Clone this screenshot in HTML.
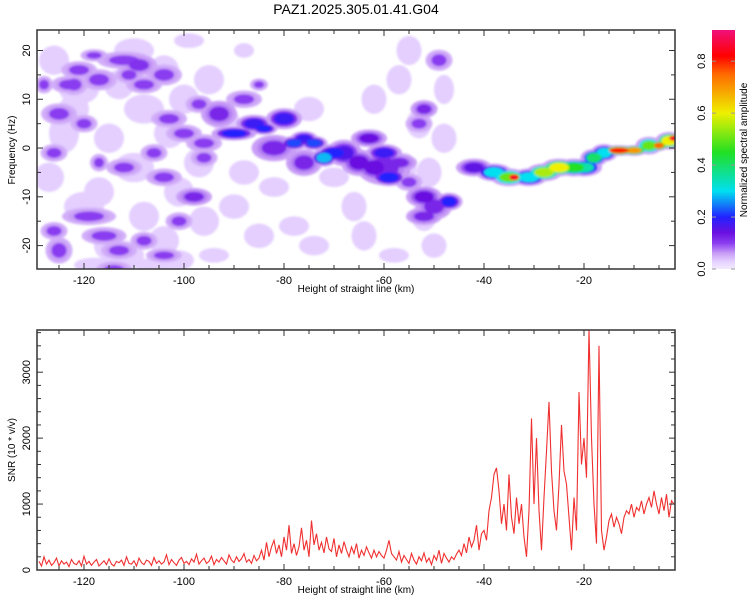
<!DOCTYPE html>
<html><head><meta charset="utf-8"><style>
body{margin:0;background:#fff;width:750px;height:600px;overflow:hidden}
svg text{font-family:"Liberation Sans",sans-serif;fill:#000}
</style></head><body>
<svg id="c" width="750" height="600" xmlns="http://www.w3.org/2000/svg">
<defs>
<linearGradient id="cbg" x1="0" y1="1" x2="0" y2="0"></linearGradient>
<filter id="soft"><feGaussianBlur stdDeviation="1.0"/></filter>
<clipPath id="clipTop"><rect x="37" y="30" width="638" height="239"/></clipPath>
<clipPath id="clipBot"><rect x="37" y="330" width="638" height="240"/></clipPath>
</defs>
<text x="356" y="14" font-size="14" text-anchor="middle">PAZ1.2025.305.01.41.G04</text>
<g id="specMarks" clip-path="url(#clipTop)" filter="url(#soft)"></g>
<g id="snrMarks" clip-path="url(#clipBot)"></g>
<g id="axes"></g>
</svg>
<script>
// ---- data ----
const xTicks=[-120,-100,-80,-60,-40,-20];
const fTicks=[-20,-10,0,10,20];
const snrTicks=[0,1000,2000,3000];
const cbTicks=[0.0,0.2,0.4,0.6,0.8];
// spectral cloud patches: center km, freq Hz, half-width km, half-height Hz
const cloudX=[-126,-121,-124,-127,-120,-115,-110,-113,-108,-115,-110,-117,-112,-104,-100,-103,-97,-101,-96,-104,-99,-101,-88,-85,-90,-88,-78,-74,-66,-64,-62,-57,-55,-53,-51,-56,-50,-48,-52,-75,-92,-118,-106,-94,-58,-48,-122,-108,-95,-82,-70];
const cloudF=[18,12,3,-6,-12,-20,20,13,8,2,-4,-9,-22,16,10,3,-3,-9,-15,-19,22,-23,-5,-18,-12,20,-16,-20,-12,-18,10,14,20,5,-5,-4,-20,12,-14,8,6,-24,-24,-22,-22,2,8,-14,14,-8,-6];
const cloudW=[3,4,3,3,4,3,4,3,4,3,4,3,4,3,3,3,3,3,3,3,3,3,3,3,3,2,3,3,2.5,2.5,2.5,2.5,2.5,2.5,2.5,2.5,2.5,2,2.5,3,3,4,4,3,3,2.5,3,3,3,3,3];
const cloudH=[3,3,4,3,3,3,2.5,3,3,3,3,3,3,3,3,3,3,3,3,3,1.5,2,2.5,2.5,2.5,1.5,2,2,3,3,3,3,3,3,3,3,2.5,3,3,2.5,2.5,1.5,1.5,1.5,1.5,3,3,3,3,2,2];
const blobX=[-125,-123,-121,-117,-112,-109,-111,-104,-108,-119,-116,-125,-126,-113,-98,-101,-104,-112,-106,-100,-96,-97,-103,-120,-126,-117,-114,-104,-108,-93,-96,-88,-85,-118,-122,-128,
 -90,-86,-84,-80,-78,-76,-74,-72,-70,-68,-65,-62,-60,-59,-63,-82,-76,-60,-52,-50,-47,-52,-52,-53,-49,-55,-57,
 -42,-38,-35,-34,-31,-28,-25,-22,-20,-18,-16,-13,-10,-7,-5,-3,-1.5];
const blobF=[7,13,16,14,18,17,15,15,13,-14,-18,-21,-17,-21,-10,-15,-6,-4,-1,3,1,9,6,5,-1,-3,-25,-22,-19,7,-2,10,13,19,13,13,
 3,5,4,6,1,2,1,-2,-1,-1,-3,-4,-1,-6,2,0,-3,-4,-10,-12,-11,-14,8,5,18,-7,-3,
 -4,-5,-6,-6,-6,-5,-4,-4,-4,-2,-1,-0.5,-0.5,0.5,0.5,1.5,2];
const blobA=[.1,.1,.1,.1,.1,.11,.1,.1,.1,.1,.1,.1,.1,.1,.12,.1,.1,.1,.1,.1,.1,.1,.1,.1,.1,.1,.1,.1,.1,.12,.1,.1,.1,.1,.1,.1,
 .2,.18,.2,.18,.22,.18,.22,.28,.2,.16,.14,.14,.18,.2,.14,.12,.12,.12,.14,.12,.2,.12,.12,.1,.1,.1,.12,
 .15,.3,.5,.85,.3,.55,.6,.45,.35,.4,.3,.8,.7,.5,.75,.6,.85];
const blobW=[2,2,2,2,3,2,1.5,2,2,3,2.5,1.5,1.5,2,2,1.5,2,2,1.5,2,2,1.5,2,1.5,1.5,1,2,2,1.5,2,1.5,2,1,1.5,1.5,1,
 2.5,2,1.5,2,1.5,1.5,1.5,1.5,2,2,2,2,2,2,2,2.5,2,3,2,2,1.5,2,1.5,1.5,1.5,1.5,2,
 2,2,2,1,2,2,2,2,2,1.5,1.5,2,1.5,1.5,1,1.5,1.5];
const blobH=[1.2,1,1,1.2,1,1.2,1,1.2,1,1,1,1.5,1,1,1,1,1,1,1,1,1,1,1,1,1,1,1,.8,1,1.5,1,1,.7,.7,1.2,1,
 .8,1,.7,1.2,.8,.8,.8,1,1,1.5,1.5,1.5,1,1,1,1.5,1.5,2,1.2,1.5,1,1,1,1,1.2,1,1,
 1,1,1,.6,1,1,1,1,1,1,1,.6,.6,1,.6,1,.6];
// SNR segments, 0.5 km spacing, start km given
const snrStartA=-129, snrA=[130,60,200,90,150,70,110,180,60,140,90,120,50,160,100,80,140,60,210,90,130,70,120,160,60,100,140,80,170,90,60,130,110,150,70,200,100,90,140,60,180,110,80,150,130,70,190,100,140,90,120,230,80,160,110,70,150,190,100,130,80,170,120,240,90,140,180,100,130,210,80,160,120,190,140,90,230,150,110,200,130,170,250,120,160,100,220,140];
const snrStartB=-85, snrB=[180,300,150,420,200,350,450,250,380,200,500,300,680,250,400,220,350,640,300,450,200,750,380,550,300,420,260,500,320,280,480,200,380,250,430,300,200,350,250,400,180,300,220,350,260,180,300,200,280,220];
const snrStartC=-60, snrC=[180,300,450,250,200,150,280,120,220,160,100,250,150,90,200,140,260,120,180,80,220,150,300,100,250,180,120,200,160,240];
const snrStartD=-45, snrD=[300,220,400,260,500,350,450,680,300,550];
const snrStartE=-40, snrE=[600,450,900,1100,1450,1550,1200,700,1000,600,1450,800,550,1100,700,1000,500,200,900,2300,1000,2000,900,300,1100,1800,2550,1500,900,600,1300,2200,1500,1300,800,300,1100,600,2700,1600,2000,1400,3650,2000,1000,400,3400,600];
const snrStartF=-16, snrF=[300,500,750,850,650,800,700,550,800,900,850,1000,800,950,900,1050,850,1000,1100,950,1200,1000,850,1100,900,1150,800,1050,1000];
// ---- scales ----
const X0=-129.4,X1=-1.8,PL=37,PR=675;
const sx=v=>PL+(v-X0)/(X1-X0)*(PR-PL);
const F0=-24.8,F1=24.2,TT=30,TB=269;
const sf=v=>TB-(v-F0)/(F1-F0)*(TB-TT);
const S1=3640,BT=330,BB=570;
const ss=v=>BB-v/S1*(BB-BT);
const C1=0.92;
const sc=v=>TB-v/C1*(TB-TT);
const stops=[[0,'#f3ebff'],[0.03,'#e4cfff'],[0.06,'#c99ef6'],[0.1,'#8a3cf0'],[0.14,'#6a10e0'],[0.2,'#2222ff'],[0.3,'#00e0f0'],[0.45,'#22e022'],[0.6,'#eef000'],[0.75,'#ff6a00'],[0.82,'#ff0000'],[0.92,'#f0107a']];
function hex(h){return [1,3,5].map(i=>parseInt(h.substr(i,2),16));}
function cmap(v){
  if(v<=0)return stops[0][1];
  for(let i=1;i<stops.length;i++){if(v<=stops[i][0]){const a=stops[i-1],b=stops[i];const t=(v-a[0])/(b[0]-a[0]);const ca=hex(a[1]),cb=hex(b[1]);return 'rgb('+ca.map((c,k)=>Math.round(c+(cb[k]-c)*t)).join(',')+')';}}
  return stops[stops.length-1][1];
}
const NS='http://www.w3.org/2000/svg';
function mk(tag,attrs,parent){const e=document.createElementNS(NS,tag);for(const k in attrs)e.setAttribute(k,attrs[k]);parent.appendChild(e);return e;}
const pxk=(PR-PL)/(X1-X0), pxf=(TB-TT)/(F1-F0);
// ---- spectrogram ----
const sg=document.getElementById('specMarks');
for(let i=0;i<cloudX.length;i++){
  const e=mk('ellipse',{cx:sx(cloudX[i]),cy:sf(cloudF[i]),rx:cloudW[i]*pxk,ry:cloudH[i]*pxf,fill:cmap(0.03)},sg);
  
  
}
const order=blobX.map((_,i)=>i).sort((a,b)=>blobA[a]-blobA[b]);
[[1.8,0.35],[1.35,0.6],[1,1]].forEach(([sc2,fa])=>{
  order.forEach(i=>{
    const amp=sc2>1.5?Math.min(0.06,blobA[i]*0.5):blobA[i]*fa;
    const e=mk('ellipse',{cx:sx(blobX[i]),cy:sf(blobF[i]),rx:blobW[i]*pxk*sc2,ry:blobH[i]*pxf*sc2,fill:cmap(amp)},sg);
    
    
  });
});
// ---- SNR line ----
const pts=[];
[[snrStartA,snrA],[snrStartB,snrB],[snrStartC,snrC],[snrStartD,snrD],[snrStartE,snrE],[snrStartF,snrF]].forEach(([s,arr])=>{
  arr.forEach((v,i)=>pts.push(sx(s+i*0.5).toFixed(1)+','+ss(v).toFixed(1)));
});
const pl=mk('polyline',{points:pts.join(' '),fill:'none',stroke:'#f03030','stroke-width':1.1},document.getElementById('snrMarks'));


// ---- axes ----
const ax=document.getElementById('axes');
function frame(t,b,name){const r=mk('rect',{x:PL,y:t,width:PR-PL,height:b-t,fill:'none',stroke:'#333','stroke-width':1.5},ax);}
frame(TT,TB,'spectrogram-frame');frame(BT,BB,'snr-frame');
function xaxis(t,b,lblY,name){
  for(let v=-125;v<=-5;v+=5){const x=sx(v);const L=(v%20===0)?6:4;
    mk('line',{x1:x,y1:b,x2:x,y2:b-L,stroke:'#333'},ax);mk('line',{x1:x,y1:t,x2:x,y2:t+L,stroke:'#333'},ax);}
  xTicks.forEach(v=>{const e=mk('text',{x:sx(v),y:b+15,'font-size':11,'text-anchor':'middle'},ax);e.textContent=v;});
  const e=mk('text',{x:356,y:lblY,'font-size':10,'text-anchor':'middle'},ax);e.textContent='Height of straight line (km)';
}
xaxis(TT,TB,292,'x-axis-title-top');xaxis(BT,BB,593,'x-axis-title-bottom');
for(let v=-20;v<=20;v+=5){const y=sf(v);const L=(v%10===0)?6:4;mk('line',{x1:PL,y1:y,x2:PL+L,y2:y,stroke:'#333'},ax);mk('line',{x1:PR,y1:y,x2:PR-L,y2:y,stroke:'#333'},ax);}
fTicks.forEach(v=>{const y=sf(v);const e=mk('text',{x:0,y:0,'font-size':11,'text-anchor':'middle',transform:`translate(30,${y}) rotate(-90)`},ax);e.textContent=v;});
let yt=mk('text',{x:0,y:0,'font-size':10,'text-anchor':'middle',transform:`translate(15,150) rotate(-90)`},ax);yt.textContent='Frequency (Hz)';
for(let v=200;v<=3600;v+=200){const y=ss(v);const L=(v%1000===0)?6:4;mk('line',{x1:PL,y1:y,x2:PL+L,y2:y,stroke:'#333'},ax);mk('line',{x1:PR,y1:y,x2:PR-L,y2:y,stroke:'#333'},ax);}
snrTicks.forEach(v=>{const y=ss(v);const e=mk('text',{x:0,y:0,'font-size':11,'text-anchor':'middle',transform:`translate(30,${y}) rotate(-90)`},ax);e.textContent=v;});
yt=mk('text',{x:0,y:0,'font-size':10,'text-anchor':'middle',transform:`translate(15,450) rotate(-90)`},ax);yt.textContent='SNR (10 * v/v)';
// colorbar
const g=document.getElementById('cbg');
stops.forEach(s=>mk('stop',{offset:(s[0]/C1),'stop-color':s[1]},g));
const cb=mk('rect',{x:712,y:TT,width:23,height:TB-TT,fill:'url(#cbg)'},ax);
cbTicks.forEach(v=>{const y=sc(v);mk('line',{x1:712,y1:y,x2:716,y2:y,stroke:'#999'},ax);mk('line',{x1:731,y1:y,x2:735,y2:y,stroke:'#999'},ax);
  const e=mk('text',{x:0,y:0,'font-size':11,'text-anchor':'middle',transform:`translate(705,${y}) rotate(-90)`},ax);e.textContent=v.toFixed(1);});
yt=mk('text',{x:0,y:0,'font-size':10,'text-anchor':'middle',transform:`translate(747,150) rotate(-90)`},ax);yt.textContent='Normalized spectral amplitude';
</script>
</body></html>
